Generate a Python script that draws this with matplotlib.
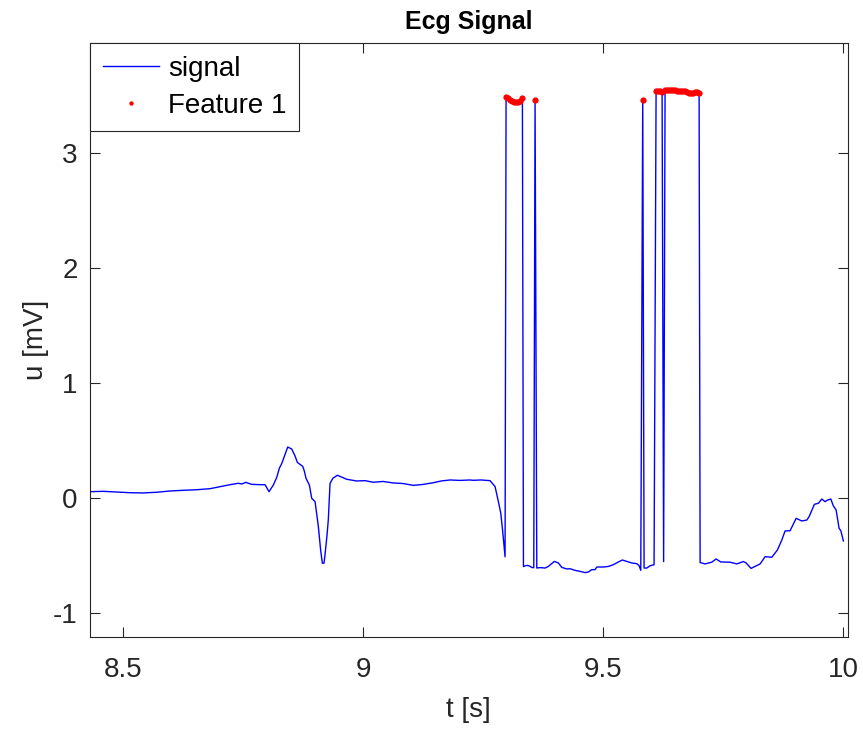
import numpy as np
import matplotlib.pyplot as plt

plt.rcParams['font.family'] = ['Liberation Sans', 'DejaVu Sans']
plt.rcParams['axes.unicode_minus'] = False

# ECG samples (time in s, voltage in mV)
t_sig = [8.4306, 8.4583, 8.4863, 8.514, 8.5417, 8.5696, 8.5973, 8.625, 8.653, 8.6806,
         8.7015, 8.7223, 8.7396, 8.7467, 8.755, 8.7675, 8.7848, 8.7952, 8.8035, 8.8125,
         8.8196, 8.825, 8.83, 8.8363, 8.8425, 8.8508, 8.8577, 8.8625, 8.8738, 8.877,
         8.8806, 8.8875, 8.8925, 8.8994, 8.9063, 8.911, 8.9146, 8.918, 8.92, 8.9244,
         8.927, 8.9306, 8.9363, 8.9458, 8.9654, 8.9863, 9.0035, 9.0208, 9.041, 9.0625,
         9.0827, 9.1042, 9.124, 9.1458, 9.162, 9.1806, 9.2015, 9.222, 9.229, 9.245,
         9.264, 9.2744, 9.2813, 9.2863, 9.29, 9.2952,
         9.2973, 9.3015, 9.3057, 9.31, 9.314, 9.3185, 9.3227, 9.327, 9.3313,
         9.3335, 9.3375, 9.342, 9.3465, 9.3515, 9.355, 9.3577, 9.3613,
         9.3681, 9.3785, 9.3854, 9.3979, 9.4063, 9.4133, 9.4238, 9.4306, 9.441, 9.4515,
         9.462, 9.4688, 9.4758, 9.4827, 9.4863, 9.5, 9.5104, 9.5208, 9.5313, 9.5396,
         9.5488, 9.5592, 9.5696, 9.5744, 9.5779, 9.582, 9.5848, 9.5904, 9.5973, 9.6056,
         9.6098, 9.614, 9.618, 9.6223, 9.6255,
         9.6285, 9.6327, 9.6369, 9.641, 9.6452, 9.6494, 9.6535, 9.6577, 9.6619, 9.666,
         9.6702, 9.6744, 9.6785, 9.6827, 9.6869, 9.691, 9.6952, 9.6994,
         9.7015, 9.7118, 9.7258, 9.7348, 9.7446, 9.764, 9.7779, 9.7917, 9.7973, 9.8077,
         9.8265, 9.8369, 9.8508, 9.8625, 9.8717, 9.8785, 9.889, 9.9015, 9.9133, 9.9238,
         9.9285, 9.9396, 9.9479, 9.955, 9.9619, 9.9675, 9.9738, 9.9792, 9.9848, 9.991,
         9.9946, 10.0]
u_sig = [0.055, 0.058, 0.052, 0.046, 0.044, 0.050, 0.061, 0.067, 0.072, 0.081,
         0.099, 0.116, 0.128, 0.122, 0.136, 0.119, 0.116, 0.116, 0.055, 0.113,
         0.18, 0.259, 0.30, 0.374, 0.444, 0.426, 0.366, 0.31, 0.275, 0.235,
         0.171, 0.113, -0.003, -0.032, -0.25, -0.453, -0.568, -0.568, -0.50, -0.32,
         -0.19, 0.127, 0.171, 0.198, 0.163, 0.148, 0.151, 0.137, 0.144, 0.131,
         0.126, 0.11, 0.118, 0.133, 0.148, 0.157, 0.153, 0.157, 0.154, 0.157,
         0.151, 0.099, -0.032, -0.133, -0.28, -0.512,
         3.496, 3.485, 3.47, 3.458, 3.447, 3.445, 3.447, 3.46, 3.485,
         -0.597, -0.59, -0.587, -0.593, -0.606, -0.606, 3.47, -0.61,
         -0.606, -0.61, -0.596, -0.552, -0.566, -0.604, -0.618, -0.616, -0.63, -0.639,
         -0.65, -0.644, -0.624, -0.624, -0.601, -0.601, -0.596, -0.581, -0.557, -0.54,
         -0.552, -0.566, -0.572, -0.589, -0.63, 3.467, -0.61, -0.61, -0.59, -0.581,
         3.548, 3.545, 3.54, 3.535, -0.554,
         3.552, 3.557, 3.556, 3.554, 3.552, 3.549, 3.545, 3.547, 3.548, 3.546,
         3.54, 3.533, 3.528, 3.525, 3.53, 3.536, 3.532, 3.528,
         -0.562, -0.574, -0.559, -0.531, -0.557, -0.559, -0.574, -0.553, -0.566, -0.613,
         -0.574, -0.511, -0.516, -0.453, -0.366, -0.287, -0.285, -0.177, -0.2, -0.192,
         -0.163, -0.055, -0.046, -0.009, -0.032, -0.017, -0.009, -0.07, -0.104, -0.264,
         -0.285, -0.374]

threshold = 3.0
x_ticks = [8.5, 9, 9.5, 10]
x_labels = ["8.5", "9", "9.5", "10"]
y_ticks = [-1, 0, 1, 2, 3]
y_labels = ["-1", "0", "1", "2", "3"]

t_sig = np.array(t_sig)
u_sig = np.array(u_sig)
mask = u_sig > threshold

fig = plt.figure(figsize=(8.63, 7.29), dpi=100)
ax = fig.add_axes([0.1043, 0.1258, 0.8780, 0.8152])

ax.plot(t_sig, u_sig, color='blue', linewidth=1.0, label='signal')
ax.plot(t_sig[mask], u_sig[mask], 'o', color='red', markersize=4.5,
        markeredgewidth=0, label='Feature 1')

ax.set_xlim(8.4306, 10.009)
ax.set_ylim(-1.213, 3.962)
ax.set_xticks(x_ticks)
ax.set_xticklabels(x_labels)
ax.set_yticks(y_ticks)
ax.set_yticklabels(y_labels)

dark = '#262626'
for s in ax.spines.values():
    s.set_color(dark)
    s.set_linewidth(0.8)
ax.tick_params(direction='in', top=True, right=True, length=7, width=0.8,
               colors=dark, labelsize=20)
ax.tick_params(axis='x', pad=14)
ax.tick_params(axis='y', pad=9)

ax.set_xlabel("t [s]", fontsize=20, color=dark, labelpad=10)
ax.set_ylabel("u [mV]", fontsize=20, color=dark, labelpad=3)
ax.set_title("Ecg Signal", fontsize=18, fontweight='bold', pad=10)

leg = ax.legend(loc='upper left', fontsize=20, frameon=True, fancybox=False,
                framealpha=1, edgecolor=dark, borderaxespad=0, handlelength=2.05,
                handletextpad=0.3, borderpad=0.45, labelspacing=0.4, markerscale=0.7)
leg.get_frame().set_linewidth(0.8)

fig.savefig("out.png", dpi=100)
